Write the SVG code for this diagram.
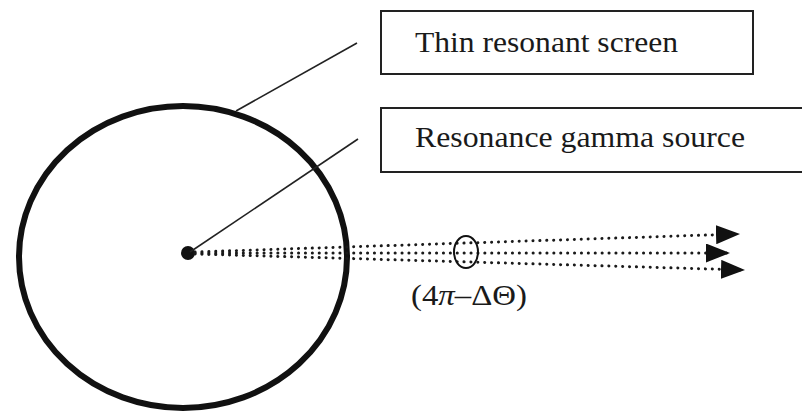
<svg xmlns="http://www.w3.org/2000/svg" width="802" height="411" viewBox="0 0 802 411">
<defs>
<style>
.box{fill:#fff;stroke:#222;stroke-width:2}
.lbl{font-family:"Liberation Serif","Times New Roman",serif;font-size:29px;fill:#1a1a1a}
.lead{stroke:#222;stroke-width:1.6;fill:none}
.ray{stroke:#1a1a1a;stroke-width:3;stroke-dasharray:0.1 6.8;stroke-linecap:round;fill:none}
</style>
<marker id="ah" viewBox="0 0 24 19" refX="23" refY="9.5" markerWidth="24" markerHeight="19" markerUnits="userSpaceOnUse" orient="auto">
<path d="M0,0 L24,9.5 L0,19 Z" fill="#111"/>
</marker>
</defs>
<rect width="802" height="411" fill="#fff"/>
<g id="screen">
<ellipse cx="183" cy="257" rx="164" ry="151" fill="none" stroke="#111" stroke-width="6"/>
</g>
<g id="source">
<circle cx="188" cy="253" r="7" fill="#111"/>
</g>
<g id="screen-label">
<rect class="box" x="381" y="11" width="372" height="63"/>
<text class="lbl" x="415" y="52" textLength="263" lengthAdjust="spacingAndGlyphs">Thin resonant screen</text>
</g>
<g id="source-label">
<rect class="box" x="381" y="108" width="425" height="64"/>
<text class="lbl" x="415" y="147" textLength="330" lengthAdjust="spacingAndGlyphs">Resonance gamma source</text>
</g>
<g id="connectors">
<line class="lead" x1="236" y1="111" x2="357" y2="43"/>
<line class="lead" x1="190" y1="252" x2="358" y2="139"/>
<line class="ray" x1="195" y1="252" x2="739" y2="234" marker-end="url(#ah)"/>
<line class="ray" x1="195" y1="253" x2="729" y2="253" marker-end="url(#ah)"/>
<line class="ray" x1="195" y1="254" x2="744" y2="270" marker-end="url(#ah)"/>
</g>
<g id="solid-angle">
<ellipse cx="466" cy="252" rx="12" ry="16" fill="none" stroke="#111" stroke-width="2"/>
<text class="lbl" x="411" y="305" font-size="27" textLength="116" lengthAdjust="spacingAndGlyphs">(4<tspan font-style="italic">π</tspan>–ΔΘ)</text>
</g>
</svg>
